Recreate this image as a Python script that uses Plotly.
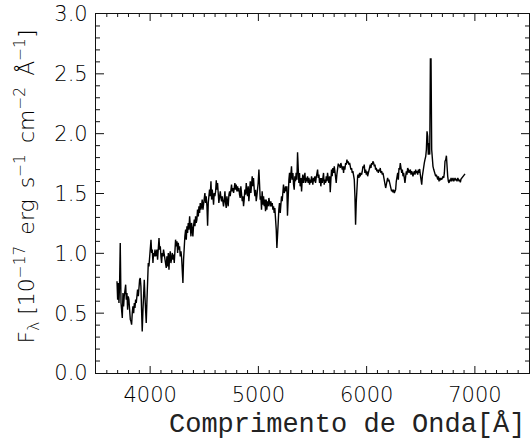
import plotly.graph_objects as go

wavelength = [
3694,3700,3706,3712,3718,3724,3731,3737,3743,3749,3755,3761,3768,3774,3780,3786,3792,3798,3804,3811,
3817,3823,3829,3835,3841,3848,3854,3860,3866,3872,3878,3884,3891,3897,3903,3909,3915,3921,3927,3934,
3940,3946,3952,3958,3964,3971,3977,3983,3989,3995,4001,4008,4014,4020,4026,4032,4038,4045,4051,4057,
4063,4069,4075,4082,4088,4094,4100,4106,4112,4118,4124,4131,4137,4143,4149,4155,4161,4168,4174,4180,
4186,4192,4198,4205,4211,4217,4223,4229,4235,4241,4248,4254,4260,4266,4272,4278,4285,4291,4297,4303,
4309,4315,4321,4328,4334,4340,4346,4352,4358,4365,4371,4377,4383,4389,4395,4401,4408,4414,4420,4426,
4432,4438,4445,4451,4457,4463,4469,4475,4481,4488,4494,4500,4506,4512,4518,4525,4531,4537,4543,4549,
4555,4562,4568,4574,4580,4586,4592,4598,4605,4611,4617,4623,4629,4635,4642,4648,4654,4660,4666,4672,
4678,4685,4691,4697,4703,4709,4715,4721,4728,4734,4740,4746,4752,4758,4765,4771,4777,4783,4789,4795,
4802,4808,4814,4820,4826,4832,4838,4845,4851,4857,4863,4869,4875,4882,4888,4894,4900,4906,4912,4918,
4925,4931,4937,4943,4949,4955,4962,4968,4974,4980,4986,4992,4998,5005,5011,5017,5023,5029,5035,5042,
5048,5054,5060,5066,5072,5078,5085,5091,5097,5103,5109,5115,5122,5128,5134,5140,5146,5152,5158,5165,
5171,5177,5183,5189,5195,5202,5208,5214,5220,5226,5232,5239,5245,5251,5257,5263,5269,5276,5282,5288,
5294,5300,5306,5312,5319,5325,5331,5337,5343,5349,5356,5362,5368,5374,5380,5386,5393,5399,5405,5411,
5417,5423,5430,5436,5442,5448,5454,5460,5467,5473,5479,5485,5491,5497,5503,5510,5516,5522,5528,5534,
5540,5547,5553,5559,5565,5571,5577,5584,5590,5596,5602,5608,5614,5621,5627,5633,5639,5645,5651,5658,
5664,5670,5676,5682,5688,5695,5701,5707,5713,5719,5725,5732,5738,5744,5750,5756,5762,5769,5775,5781,
5787,5793,5799,5806,5812,5818,5824,5830,5836,5843,5849,5855,5861,5867,5873,5880,5886,5892,5898,5904,
5910,5917,5923,5929,5935,5941,5947,5954,5960,5966,5972,5978,5984,5991,5997,6003,6009,6015,6021,6028,
6034,6040,6046,6052,6058,6065,6071,6077,6083,6089,6095,6102,6108,6114,6120,6126,6132,6139,6145,6151,
6157,6163,6169,6176,6182,6188,6194,6200,6206,6213,6219,6225,6231,6237,6243,6250,6256,6262,6268,6274,
6280,6287,6293,6299,6305,6311,6317,6324,6330,6336,6342,6348,6354,6361,6367,6373,6379,6385,6391,6398,
6404,6410,6416,6422,6428,6435,6441,6447,6453,6459,6465,6472,6478,6484,6490,6496,6502,6509,6515,6521,
6527,6533,6539,6546,6552,6558,6564,6570,6576,6583,6589,6595,6601,6607,6613,6620,6626,6632,6638,6644,
6650,6657,6663,6669,6675,6681,6687,6694,6700,6706,6712,6718,6724,6731,6737,6743,6749,6755,6761,6768,
6774,6780,6786,6792,6798,6805,6811,6817,6823,6829,6835,6842,6848,6854,6860,6866,6872,6879,6885,6891,
6897,6909]

flux = [
0.766,0.613,0.752,0.585,0.752,1.087,0.585,0.500,0.460,0.669,0.557,0.641,0.724,0.738,0.613,0.669,0.529,0.641,0.613,0.500,
0.446,0.432,0.404,0.500,0.557,0.500,0.585,0.543,0.613,0.585,0.669,0.697,0.641,0.752,0.780,0.794,0.724,0.529,0.348,0.529,
0.724,0.780,0.641,0.529,0.418,0.613,0.864,0.919,0.891,0.975,1.031,1.114,1.003,1.031,0.919,1.003,0.975,1.031,0.975,1.003,
1.031,0.947,1.087,1.128,1.031,1.059,0.975,0.919,1.003,0.975,1.031,0.989,0.961,0.919,0.878,0.975,0.891,1.003,0.864,0.975,
1.017,0.919,0.975,1.003,0.947,0.989,0.919,1.087,1.114,1.059,1.100,1.003,1.087,1.031,1.059,0.975,1.017,0.961,0.891,0.752,
0.947,1.087,1.142,1.198,1.114,1.226,1.170,1.254,1.198,1.309,1.226,1.142,1.254,1.198,1.142,1.226,1.282,1.226,1.309,1.254,
1.282,1.365,1.309,1.393,1.337,1.421,1.365,1.393,1.449,1.365,1.435,1.477,1.504,1.421,1.477,1.393,1.231,1.421,1.504,1.532,
1.477,1.602,1.449,1.532,1.477,1.407,1.504,1.477,1.518,1.610,1.532,1.588,1.504,1.421,1.477,1.518,1.463,1.435,1.477,1.421,
1.393,1.449,1.518,1.421,1.379,1.477,1.435,1.393,1.490,1.518,1.477,1.532,1.574,1.518,1.546,1.504,1.560,1.588,1.532,1.574,
1.518,1.560,1.518,1.546,1.490,1.463,1.560,1.504,1.435,1.477,1.393,1.449,1.532,1.490,1.588,1.518,1.477,1.560,1.435,1.504,
1.602,1.504,1.560,1.644,1.560,1.630,1.532,1.477,1.532,1.435,1.477,1.518,1.588,1.700,1.532,1.449,1.477,1.365,1.518,1.407,
1.477,1.393,1.449,1.351,1.449,1.365,1.435,1.393,1.463,1.421,1.393,1.435,1.393,1.421,1.365,1.393,1.337,1.379,1.309,1.198,
1.045,1.114,1.254,1.365,1.421,1.337,1.407,1.477,1.435,1.518,1.574,1.504,1.532,1.560,1.518,1.560,1.315,1.532,1.616,1.672,
1.588,1.658,1.727,1.616,1.672,1.574,1.532,1.644,1.602,1.672,1.616,1.844,1.644,1.588,1.672,1.560,1.630,1.518,1.616,1.658,
1.588,1.630,1.672,1.588,1.630,1.602,1.644,1.588,1.630,1.574,1.616,1.588,1.644,1.616,1.574,1.630,1.602,1.644,1.588,1.630,
1.672,1.700,1.630,1.658,1.588,1.630,1.560,1.630,1.588,1.630,1.672,1.574,1.616,1.588,1.644,1.602,1.672,1.630,1.588,1.644,
1.510,1.616,1.700,1.644,1.713,1.672,1.727,1.686,1.644,1.588,1.658,1.727,1.750,1.727,1.741,1.713,1.755,1.727,1.700,1.727,
1.672,1.727,1.700,1.755,1.741,1.783,1.755,1.769,1.741,1.755,1.727,1.700,1.713,1.672,1.686,1.644,1.616,1.477,1.240,1.421,
1.588,1.644,1.658,1.630,1.672,1.644,1.672,1.658,1.686,1.727,1.713,1.741,1.672,1.700,1.658,1.686,1.644,1.672,1.700,1.727,
1.741,1.713,1.755,1.741,1.769,1.755,1.727,1.741,1.700,1.713,1.686,1.700,1.672,1.700,1.686,1.713,1.672,1.686,1.658,1.672,
1.644,1.616,1.560,1.546,1.574,1.616,1.630,1.602,1.616,1.588,1.560,1.532,1.518,1.532,1.510,1.532,1.504,1.518,1.532,1.602,
1.644,1.672,1.616,1.713,1.700,1.755,1.700,1.672,1.700,1.644,1.672,1.630,1.588,1.644,1.686,1.658,1.713,1.700,1.672,1.686,
1.700,1.658,1.686,1.672,1.644,1.672,1.686,1.658,1.700,1.672,1.686,1.658,1.700,1.672,1.705,1.658,1.616,1.574,1.644,1.700,
1.727,1.755,1.783,1.811,1.867,2.020,1.978,1.825,1.922,1.825,2.624,2.624,1.867,1.755,1.727,1.700,1.686,1.672,1.644,1.658,
1.630,1.616,1.644,1.602,1.630,1.610,1.630,1.616,1.630,1.644,1.630,1.672,1.769,1.783,1.816,1.700,1.644,1.602,1.588,1.616,
1.602,1.630,1.602,1.616,1.630,1.602,1.616,1.630,1.610,1.621,1.602,1.630,1.616,1.602,1.616,1.594,1.621,1.630,1.644,1.650,
1.658,1.664]

x_range = [3500, 7500]
y_range = [0.0, 3.0]
x_ticks = [4000, 5000, 6000, 7000]
y_ticks = [0.0, 0.5, 1.0, 1.5, 2.0, 2.5, 3.0]
x_minor_step = 100
y_minor_step = 0.1
x_title = "Comprimento de Onda[Å]"
sp = "\u2002"
y_title = ("F<sub>λ</sub> [10<sup>−17</sup>" + sp + "erg" + sp + "s<sup>−1</sup>" + sp +
           "cm<sup>−2</sup>" + sp + "Å<sup>−1</sup>]")

INK = "#111111"

fig = go.Figure()
fig.add_trace(go.Scatter(x=wavelength, y=flux, mode="lines",
                         line=dict(color="black", width=1.4), showlegend=False,
                         hoverinfo="skip"))

tickfont = dict(family="DejaVu Sans", size=21, color="black", weight=200)

fig.update_xaxes(range=x_range, tickvals=x_ticks, showgrid=False, zeroline=False,
                 showline=True, mirror=True, linecolor=INK, linewidth=1.2,
                 ticks="", ticklabelstandoff=3, tickfont=tickfont)
fig.update_yaxes(range=y_range, tickvals=y_ticks, tickformat=".1f", showgrid=False,
                 zeroline=False, showline=True, mirror=True, linecolor=INK,
                 linewidth=1.2, ticks="", ticklabelstandoff=3, tickfont=tickfont)

# inside tick marks on all four sides (major + minor), placed via axis coordinates
tick_line = dict(color=INK, width=1)
shapes = []
n_xminor = int(round((x_range[1] - x_range[0]) / x_minor_step))
for i in range(1, n_xminor):
    xv = x_range[0] + i * x_minor_step
    ln = 7 if xv in x_ticks else 3
    shapes.append(dict(type="line", xref="x", yref="y", ysizemode="pixel",
                       yanchor=y_range[0], x0=xv, x1=xv, y0=0, y1=ln, line=tick_line))
    shapes.append(dict(type="line", xref="x", yref="y", ysizemode="pixel",
                       yanchor=y_range[1], x0=xv, x1=xv, y0=0, y1=-ln, line=tick_line))
n_yminor = int(round((y_range[1] - y_range[0]) / y_minor_step))
for j in range(1, n_yminor):
    yv = round(y_range[0] + j * y_minor_step, 2)
    ln = 8 if yv in y_ticks else 4
    shapes.append(dict(type="line", xref="x", yref="y", xsizemode="pixel",
                       xanchor=x_range[0], y0=yv, y1=yv, x0=0, x1=ln, line=tick_line))
    shapes.append(dict(type="line", xref="x", yref="y", xsizemode="pixel",
                       xanchor=x_range[1], y0=yv, y1=yv, x0=0, x1=-ln, line=tick_line))
fig.update_layout(shapes=shapes)

fig.add_annotation(text=x_title, xref="paper", yref="paper", x=0.58, y=-0.145,
                   showarrow=False, xanchor="center", yanchor="middle",
                   font=dict(family="Liberation Mono", size=27, color="#222222"))
fig.add_annotation(text=y_title, xref="paper", yref="paper", x=-0.159, y=0.52,
                   showarrow=False, xanchor="center", yanchor="middle", textangle=-90,
                   font=dict(family="DejaVu Sans", size=22, color="black", weight=200))

fig.update_layout(width=530, height=440, margin=dict(l=96, r=1, t=14, b=67),
                  plot_bgcolor="white", paper_bgcolor="white")

fig.write_html("out.html")
